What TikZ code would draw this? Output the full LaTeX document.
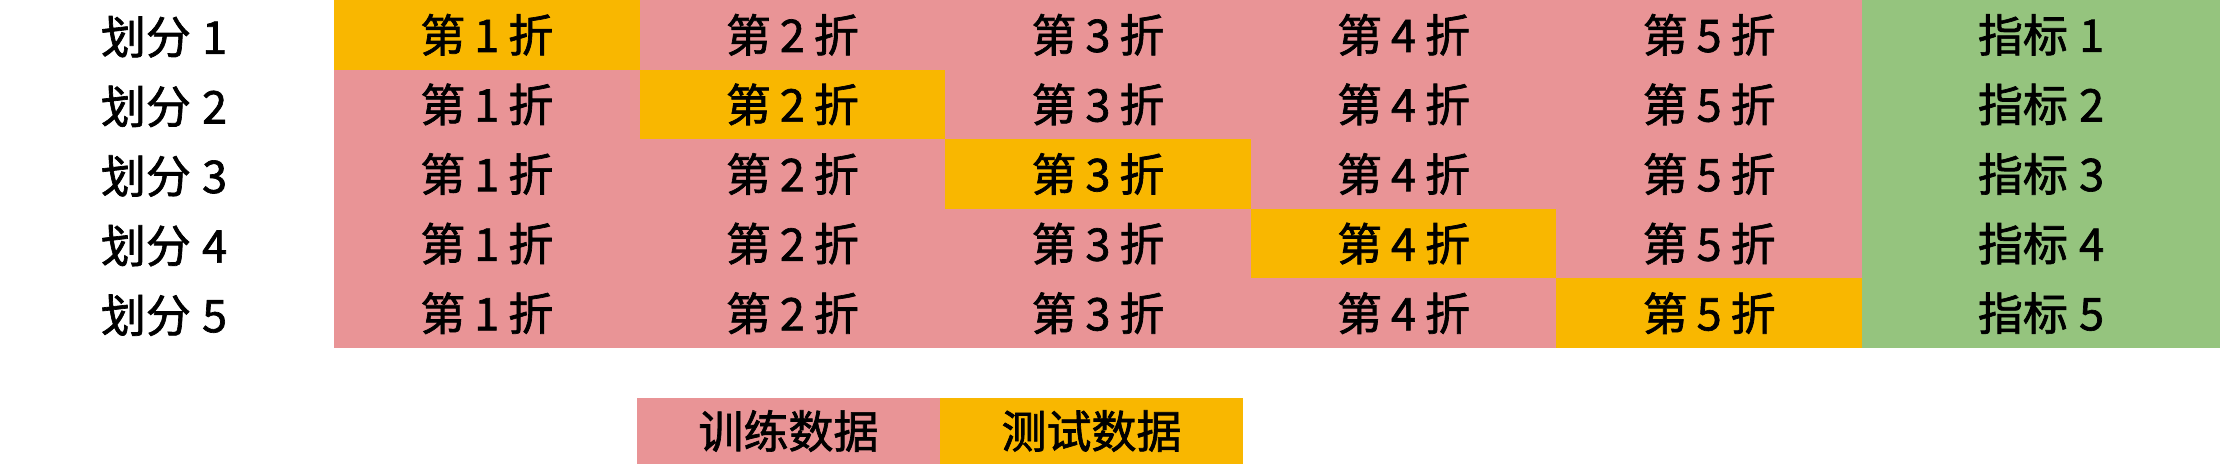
\documentclass[tikz,border=0pt]{standalone}
\usepackage{fontspec}
\setmainfont{Noto Sans CJK SC}[FakeBold=1.5]
\definecolor{trainpink}{HTML}{E99496}
\definecolor{testyellow}{HTML}{F9B700}
\definecolor{metricgreen}{HTML}{95C47E}
\newcommand{\gs}{\hspace{0.2em}}
\newcommand{\ls}{\hspace{0.25em}}
\tikzset{
  txt/.style={font=\fontsize{45}{50}\selectfont},
  cell/.style={txt, minimum width=305.6pt, minimum height=69.6pt, inner sep=0pt, outer sep=0pt, anchor=north west},
  metric/.style={cell, minimum width=358pt, fill=metricgreen},
  rowlabel/.style={txt, inner sep=0pt},
  legendbox/.style={cell, minimum width=303pt, minimum height=66pt}
}
\begin{document}
\begin{tikzpicture}[x=1pt,y=1pt]
\useasboundingbox (0,0) rectangle (2220,-464);
\foreach \i in {1,...,5} {
  \node[rowlabel] (lab\i) at (164,{-(\i-0.5)*69.6-2}) {划分\ls\i};
  \foreach \j in {1,...,5} {
    \ifnum\i=\j
      \node[cell, fill=testyellow] (c\i\j) at ({334+(\j-1)*305.6},{-(\i-1)*69.6}) {\raisebox{-2pt}{第\gs\j\gs 折}};
    \else
      \node[cell, fill=trainpink] (c\i\j) at ({334+(\j-1)*305.6},{-(\i-1)*69.6}) {\raisebox{-2pt}{第\gs\j\gs 折}};
    \fi
  }
  \node[metric] (m\i) at (1862,{-(\i-1)*69.6}) {\raisebox{-2pt}{指标\ls\i}};
}
\node[legendbox, fill=trainpink] (train) at (637,-398) {训练数据};
\node[legendbox, fill=testyellow] (test) at (940,-398) {测试数据};
\end{tikzpicture}
\end{document}
